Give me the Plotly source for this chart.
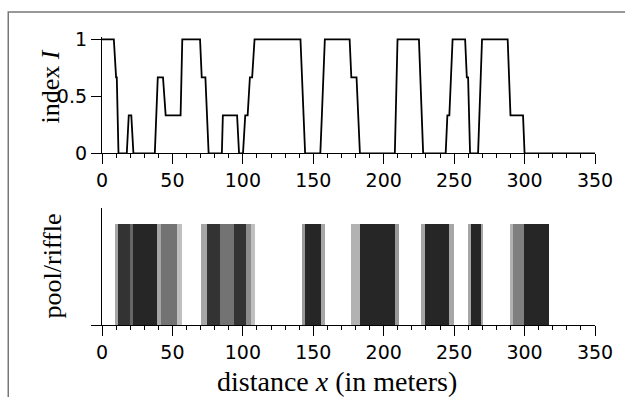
import plotly.graph_objects as go

# ---- data: index I along the reach (vertices of the step curve) ----
dist_x = [0, 8.4, 10, 10.5, 11.7, 17.6, 19, 20.8, 22.3, 37.5, 39.6, 43.3, 45.2, 55.8, 57,
          69.6, 70.8, 73.4, 75.7, 85.1, 85.8, 95.9, 97.3, 100.1, 101.7, 103.4, 105, 106.6,
          108.3, 140.9, 144.2, 155, 156.1, 158.2, 175.8, 177, 180.7, 183.1, 207.9, 209.8,
          225, 228, 244, 245.2, 246.6, 248.9, 257.8, 259, 259.9, 261.3, 267, 269.8, 288,
          290, 298.9, 300, 350]
t = 1 / 3
index_I = [1, 1, 2*t, 2*t, 0, 0, t, t, 0, 0, 2*t, 2*t, t, t, 1,
           1, 2*t, 2*t, 0, 0, t, t, 0, 0, t, t, 2*t, 2*t,
           1, 1, 0, 0, t, 1, 1, 2*t, 2*t, 0, 0, 1,
           1, 0, 0, t, t, 1, 1, 2*t, 2*t, 0, 0, 1, 1,
           t, t, 0, 0]

# ---- data: pool/riffle shading segments (start, end, opacity) ----
seg_start = [9.4, 11.7, 19.9, 21.8, 38.7, 42.2, 53.2,
             70.5, 74.5, 84, 94, 102.5, 106,
             141.8, 144.2, 155.8,
             177, 183, 208,
             226.2, 229, 246,
             259.7, 261.8, 268.8,
             290, 291.9, 299.7]
seg_end = [11.7, 19.9, 21.8, 38.7, 42.2, 53.2, 57,
           74.5, 84, 94, 102.5, 106, 108.5,
           144.2, 155.8, 158.6,
           183, 208, 210.5,
           229, 246, 250,
           261.8, 268.8, 270.7,
           291.9, 299.7, 317.6]
seg_alpha = [0.35, 0.8, 0.6, 0.85, 0.35, 0.55, 0.25,
             0.35, 0.8, 0.55, 0.8, 0.45, 0.25,
             0.4, 0.85, 0.35,
             0.3, 0.85, 0.4,
             0.35, 0.85, 0.35,
             0.35, 0.85, 0.35,
             0.3, 0.5, 0.85]

x_ticks = [0, 50, 100, 150, 200, 250, 300, 350]
y_ticks_top = [0, 0.5, 1]
y_ticklabels_top = ["0", "0.5", "1"]

W, H = 625, 397
L, R, T, B = 102, 26, 37, 72
pw, ph = W - L - R, H - T - B

def px_x(p):
    return (p - L) / pw

def px_y(p):
    return (H - B - p) / ph

fig = go.Figure()
fig.add_trace(go.Scatter(x=dist_x, y=index_I, mode="lines",
                         line=dict(color="black", width=1.8),
                         xaxis="x", yaxis="y", showlegend=False, hoverinfo="skip"))

centers = [(a + b) / 2 for a, b in zip(seg_start, seg_end)]
widths = [b - a for a, b in zip(seg_start, seg_end)]
colors = [f"rgba(0,0,0,{a})" for a in seg_alpha]
fig.add_trace(go.Bar(x=centers, y=[1] * len(centers), width=widths,
                     marker=dict(color=colors, line=dict(width=0)),
                     xaxis="x2", yaxis="y2", showlegend=False, hoverinfo="skip"))

tick_font = dict(family="DejaVu Sans", size=19, color="black")
xcommon = dict(range=[0, 350], tickvals=x_ticks, ticks="outside", ticklen=10, tickwidth=1.3,
               tickcolor="black", showline=True, linecolor="black", linewidth=1.3,
               showgrid=False, zeroline=False, tickfont=tick_font,
               minor=dict(dtick=10, tick0=0, ticks="outside", ticklen=4, tickwidth=1,
                          tickcolor="black", showgrid=False))

top_bottom = px_y(153.3)
bot_top = px_y(208)

fig.update_layout(
    width=W, height=H, margin=dict(l=L, r=R, t=T, b=B),
    plot_bgcolor="white", paper_bgcolor="white", bargap=0,
    xaxis=dict(domain=[0, 1], anchor="y", **xcommon),
    yaxis=dict(domain=[top_bottom, 1], anchor="x", range=[0, 1.02],
               tickvals=y_ticks_top, ticktext=y_ticklabels_top, ticks="outside",
               ticklen=10, tickwidth=1.3, tickcolor="black", showline=True,
               linecolor="black", linewidth=1.3, showgrid=False, zeroline=False,
               tickfont=tick_font),
    xaxis2=dict(domain=[0, 1], anchor="y2", **xcommon),
    yaxis2=dict(domain=[0, bot_top], anchor="x2", range=[0, 1.162],
                tickvals=[0], ticktext=[""], ticks="outside", ticklen=10, tickwidth=1.3,
                tickcolor="black", showline=True, linecolor="black", linewidth=1.3,
                showgrid=False, zeroline=False),
)

serif = "Liberation Serif"
fig.add_annotation(xref="paper", yref="paper", x=px_x(51), y=px_y(86),
                   text="index <i>I</i>", textangle=-90, showarrow=False,
                   font=dict(family=serif, size=26, color="black"),
                   xanchor="center", yanchor="middle")
fig.add_annotation(xref="paper", yref="paper", x=px_x(52), y=px_y(266),
                   text="pool/riffle", textangle=-90, showarrow=False,
                   font=dict(family=serif, size=26, color="black"),
                   xanchor="center", yanchor="middle")
fig.add_annotation(xref="paper", yref="paper", x=px_x(339), y=px_y(381),
                   text="distance <i>x</i> (in meters)", showarrow=False,
                   font=dict(family=serif, size=28, color="black"),
                   xanchor="center", yanchor="middle")

# outer frame
fig.add_shape(type="rect", xref="paper", yref="paper",
              x0=px_x(7.5), x1=px_x(640), y0=px_y(420), y1=px_y(12),
              line=dict(color="#777777", width=1.5), fillcolor="rgba(0,0,0,0)",
              layer="below")

fig.write_html("out.html")
